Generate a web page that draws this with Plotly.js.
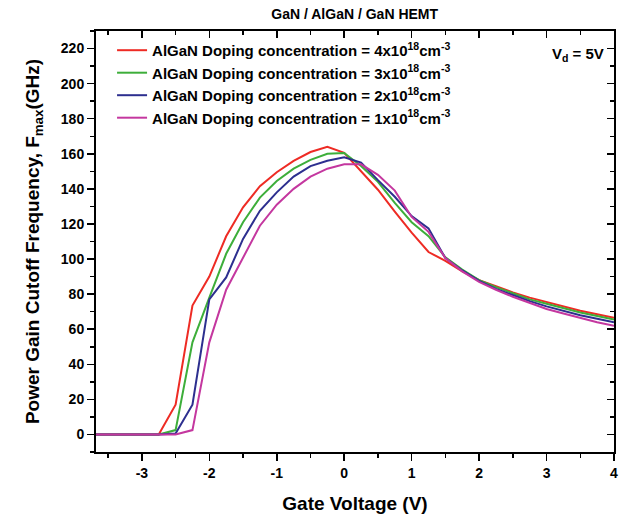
<!DOCTYPE html>
<html>
<head>
<meta charset="utf-8">
<script src="https://cdn.plot.ly/plotly-3.0.1.min.js"></script>
<style>html,body{margin:0;padding:0;background:#fff;}#chart{width:619px;height:514px;}</style>
</head>
<body>
<div id="chart"></div>
<script>
const gateVoltage = [-3.75,-3.5,-3.25,-3,-2.75,-2.5,-2.25,-2,-1.75,-1.5,-1.25,-1,-0.75,-0.5,-0.25,0,0.25,0.5,0.75,1,1.25,1.5,1.75,2,2.25,2.5,2.75,3,3.25,3.5,3.75,4];
const fmax4e18 = [0,0,0,0,0,17,73.5,90,113,129.5,141.5,149.5,156,161,164,160.5,150,139.5,127,115,104,99,93,88,84.5,81,78,75.5,73,70.5,68.5,66.5];
const fmax3e18 = [0,0,0,0,0,2.5,52.5,78,103,121,135,144.5,151.5,156.5,160,160.5,153,144,132,121,113,101,94,88,84,80.5,77,74.5,72,69.5,67.5,65.5];
const fmax2e18 = [0,0,0,0,0,0.5,17,77,89.5,111.5,127.5,138,147,153,156,158,155,145,135.5,124.5,117.5,100.5,93.5,87.5,83,79.5,76,73,70.5,68,66,64];
const fmax1e18 = [0,0,0,0,0,0,2.5,52.5,82.5,101,119,131,140,147,151.5,154,154,148,139,124,115.5,100.5,93,87,82.5,78.5,75,71.5,69,66.5,64,62];
const seriesNames = [
  'AlGaN Doping concentration = 4x10<sup>18</sup>cm<sup>-3</sup>',
  'AlGaN Doping concentration = 3x10<sup>18</sup>cm<sup>-3</sup>',
  'AlGaN Doping concentration = 2x10<sup>18</sup>cm<sup>-3</sup>',
  'AlGaN Doping concentration = 1x10<sup>18</sup>cm<sup>-3</sup>'
];
const seriesValues = [fmax4e18, fmax3e18, fmax2e18, fmax1e18];
const seriesColors = ['#ee2b24', '#3dae3a', '#2d2f8f', '#c4379f'];
const xTickVals = [-3,-2,-1,0,1,2,3,4];
const yTickVals = [0,20,40,60,80,100,120,140,160,180,200,220];

const FONT = 'Arial, "Liberation Sans", sans-serif';
const traces = seriesValues.map((vals, i) => ({
  x: gateVoltage, y: vals, type: 'scatter', mode: 'lines',
  name: seriesNames[i],
  line: {color: seriesColors[i], width: 2}
}));
// dummy trace to activate mirror axes (inside ticks on top/right)
traces.push({x: [null], y: [null], xaxis: 'x2', yaxis: 'y2', showlegend: false, hoverinfo: 'skip', mode: 'lines'});

const xr = [-3.68, 4];
const yr = [-10, 230];
const layout = {
  width: 619, height: 514,
  margin: {l: 96, r: 5, t: 31, b: 62},
  paper_bgcolor: '#fff', plot_bgcolor: '#fff',
  font: {family: FONT, color: '#000'},
  title: {text: 'GaN / AlGaN / GaN HEMT', font: {size: 14, weight: 'bold', family: FONT}, x: 0.573, xanchor: 'center', y: 0.972, yanchor: 'middle'},
  showlegend: true,
  legend: {x: 0.031, y: 0.993, xanchor: 'left', yanchor: 'top', bgcolor: 'rgba(0,0,0,0)', font: {size: 15, weight: 'bold', family: FONT}, tracegroupgap: 0},
  xaxis: {
    range: xr, tickvals: xTickVals, ticktext: xTickVals.map(String),
    ticks: 'outside', ticklen: 7, tickwidth: 1.5, tickcolor: '#000',
    minor: {dtick: 0.5, tick0: 0, ticks: 'outside', ticklen: 4, tickwidth: 1.5, tickcolor: '#000'},
    showline: true, linecolor: '#000', linewidth: 2, showgrid: false, zeroline: false,
    tickfont: {size: 14, weight: 'bold', family: FONT},
    title: {text: 'Gate Voltage (V)', font: {size: 19, weight: 'bold', family: FONT}, standoff: 18}
  },
  yaxis: {
    range: yr, tickvals: yTickVals, ticktext: yTickVals.map(String),
    ticks: 'outside', ticklen: 7, tickwidth: 1.5, tickcolor: '#000',
    minor: {dtick: 10, tick0: 0, ticks: 'outside', ticklen: 4, tickwidth: 1.5, tickcolor: '#000'},
    showline: true, linecolor: '#000', linewidth: 2, showgrid: false, zeroline: false,
    tickfont: {size: 14, weight: 'bold', family: FONT},
    title: {text: 'Power Gain Cutoff Frequency, F<sub>max</sub>(GHz)', font: {size: 19, weight: 'bold', family: FONT}, standoff: 16}
  },
  xaxis2: {
    overlaying: 'x', side: 'top', anchor: 'y2', range: xr, tickvals: xTickVals,
    ticks: 'inside', ticklen: 7, tickwidth: 1.5, tickcolor: '#000', showticklabels: false,
    minor: {dtick: 0.5, tick0: 0, ticks: 'inside', ticklen: 4, tickwidth: 1.5, tickcolor: '#000'},
    showline: true, linecolor: '#000', linewidth: 2, showgrid: false, zeroline: false
  },
  yaxis2: {
    overlaying: 'y', side: 'right', anchor: 'x2', range: yr, tickvals: yTickVals,
    ticks: 'inside', ticklen: 7, tickwidth: 1.5, tickcolor: '#000', showticklabels: false,
    minor: {dtick: 10, tick0: 0, ticks: 'inside', ticklen: 4, tickwidth: 1.5, tickcolor: '#000'},
    showline: true, linecolor: '#000', linewidth: 2, showgrid: false, zeroline: false
  },
  annotations: [{
    text: 'V<sub>d</sub> = 5V', xref: 'paper', yref: 'paper', x: 0.985, y: 0.945,
    xanchor: 'right', yanchor: 'middle', showarrow: false,
    font: {size: 15, weight: 'bold', family: FONT}
  }]
};
Plotly.newPlot('chart', traces, layout, {displayModeBar: false, staticPlot: true});
</script>
</body>
</html>
